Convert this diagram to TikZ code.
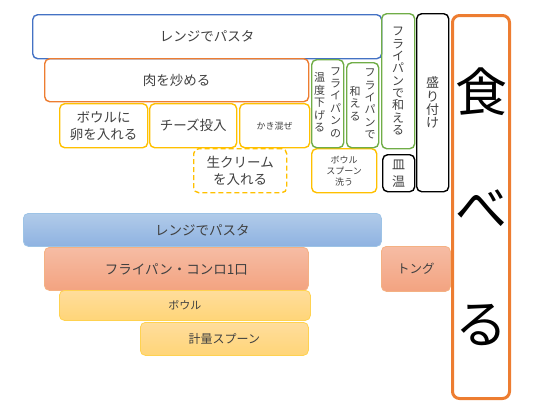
\documentclass[tikz,border=0pt]{standalone}
\usepackage{fontspec}
\setmainfont{Noto Sans CJK JP}
\usepackage{tikz}
\definecolor{offblue}{RGB}{68,114,196}
\definecolor{offorange}{RGB}{237,125,49}
\definecolor{offyellow}{RGB}{255,192,0}
\definecolor{offgreen}{RGB}{112,173,71}
\definecolor{txtgray}{RGB}{64,64,64}
\definecolor{bluetop}{RGB}{177,203,233}
\definecolor{bluebot}{RGB}{142,178,225}
\definecolor{blueedge}{RGB}{157,195,230}
\definecolor{salmontop}{RGB}{246,188,164}
\definecolor{salmonbot}{RGB}{243,163,128}
\definecolor{salmonedge}{RGB}{244,177,131}
\definecolor{yellowtop}{RGB}{255,221,156}
\definecolor{yellowbot}{RGB}{255,213,120}
\definecolor{yellowedge}{RGB}{255,210,80}
\newcommand{\tate}[1]{\begin{tabular}[c]{@{}c@{}}#1\end{tabular}}

\begin{document}
\begin{tikzpicture}[x=1pt,y=-1pt,
  box/.style={draw,rounded corners=5pt,line width=1.4pt,inner sep=0pt,anchor=north west,
    text=txtgray,align=center,font=\fontsize{13.5}{17}\selectfont},
  bar/.style={draw=#1edge,top color=#1top,bottom color=#1bot,rounded corners=5pt,
    line width=0.8pt,inner sep=0pt,anchor=north west,text=txtgray,font=\fontsize{13.5}{17}\selectfont}]
\useasboundingbox (0,0) rectangle (550,413);

% Steps
\node[box,draw=offblue,minimum width=349pt,minimum height=44pt] (pasta) at (32,14) {レンジでパスタ};
\node[box,draw=offorange,minimum width=264pt,minimum height=43pt] (meat) at (44,58) {肉を炒める};
\node[box,draw=offyellow,minimum width=88pt,minimum height=44pt] (egg) at (59,103) {ボウルに\\卵を入れる};
\node[box,draw=offyellow,minimum width=87pt,minimum height=44pt] (cheese) at (149,103) {チーズ投入};
\node[box,draw=offyellow,minimum width=70pt,minimum height=44pt,font=\fontsize{9}{11}\selectfont] (mix) at (239,103) {かき混ぜ};
\node[box,draw=offyellow,dash pattern=on 5pt off 3pt,minimum width=93pt,minimum height=44pt] (cream) at (193,148) {生クリーム\\を入れる};
\node[box,draw=offyellow,minimum width=65pt,minimum height=44pt,font=\fontsize{9}{11}\selectfont] (wash) at (311,148) {ボウル\\スプーン\\洗う};

% Vertical steps
\node[box,draw=offgreen,minimum width=32pt,minimum height=88pt,font=\fontsize{11}{12.3}\selectfont] (cool) at (311,59)
  {\tate{温\\度\\下\\げ\\る}\hspace{5pt}\tate{フ\\ラ\\イ\\パ\\ン\\の}};
\node[box,draw=offgreen,minimum width=32pt,minimum height=85pt,font=\fontsize{11}{12.3}\selectfont] (toss) at (346,62)
  {\tate{和\\え\\る}\hspace{4pt}\tate{フ\\ラ\\イ\\パ\\ン\\で}};
\node[box,draw=offgreen,minimum width=33pt,minimum height=135pt,font=\fontsize{12}{12.3}\selectfont] (tossall) at (381,13)
  {フ\\ラ\\イ\\パ\\ン\\で\\和\\え\\る};
\node[box,draw=black,minimum width=32pt,minimum height=37pt,font=\fontsize{13}{17}\selectfont] (warm) at (382,154) {皿\\温};
\node[box,draw=black,minimum width=32pt,minimum height=178pt,font=\fontsize{13}{13.3}\selectfont] (serve) at (416,13) {盛\\り\\付\\け};

% Eat
\node[box,draw=offorange,line width=3pt,rounded corners=7pt,minimum width=57pt,minimum height=383pt,
  text=black,font=\fontsize{52}{116}\selectfont] (eat) at (451,14) {食\\べ\\る};

% Tools
\node[bar=blue,minimum width=358pt,minimum height=33pt] (oven) at (23,213) {レンジでパスタ};
\node[bar=salmon,minimum width=264pt,minimum height=43pt] (pan) at (44,247) {フライパン・コンロ1口};
\node[bar=salmon,minimum width=69pt,minimum height=45pt,font=\fontsize{12.5}{14}\selectfont] (tongs) at (381,246) {トング};
\node[bar=yellow,minimum width=251pt,minimum height=30pt,font=\fontsize{11}{13}\selectfont] (bowl) at (59,290) {ボウル};
\node[bar=yellow,minimum width=168pt,minimum height=33pt,font=\fontsize{12}{14}\selectfont] (spoon) at (140,322) {計量スプーン};
\end{tikzpicture}
\end{document}
